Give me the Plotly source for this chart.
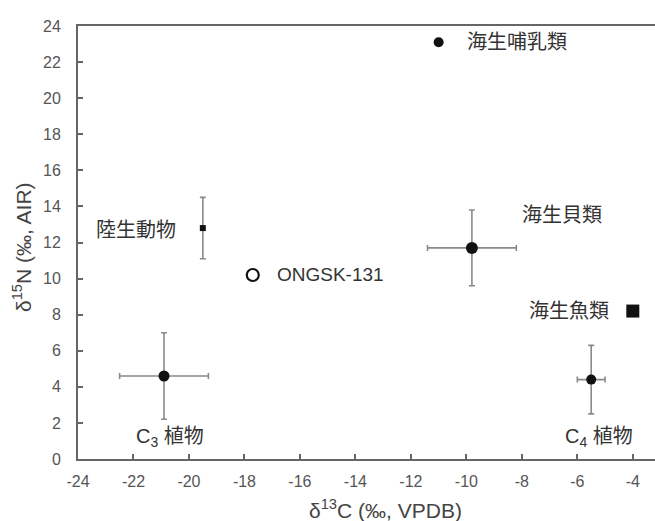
import plotly.graph_objects as go

# Data
groups = ["海生哺乳類", "海生貝類", "海生魚類", "C<sub>4</sub> 植物", "C<sub>3</sub> 植物", "陸生動物"]
d13c = [-11.0, -9.8, -4.0, -5.5, -20.9, -19.5]
d15n = [23.1, 11.7, 8.2, 4.4, 4.6, 12.8]
d13c_sd = [0, 1.6, 0, 0.5, 1.6, 0]
d15n_sd = [0, 2.1, 0, 1.9, 2.4, 1.7]
symbols = ["circle", "circle", "square", "circle", "circle", "square"]
sizes = [10, 12, 13, 10, 11, 6]

sample_name = ["ONGSK-131"]
sample_d13c = [-17.7]
sample_d15n = [10.2]

x_ticks = [-24, -22, -20, -18, -16, -14, -12, -10, -8, -6, -4]
x_ticktext = ["-24", "-22", "-20", "-18", "-16", "-14", "-12", "-10", "-8", "-6", "-4"]
y_ticks = [0, 2, 4, 6, 8, 10, 12, 14, 16, 18, 20, 22, 24]

# label placement (text offsets in data units)
label_dx = [0.95, 3.25, -0.8, 0.28, 0.22, -0.9]
label_dy = [0.0, 1.8, 0.0, -3.2, -3.4, -0.1]
label_anchor = ["left", "center", "right", "center", "center", "right"]

FONT = "Liberation Sans, Arial, Noto Sans CJK JP, sans-serif"
INK = "#111111"
GREY = "#8a8a8a"

fig = go.Figure()

# horizontal error bars (only where a spread exists)
ix = [i for i, v in enumerate(d13c_sd) if v]
fig.add_trace(go.Scatter(
    x=[d13c[i] for i in ix], y=[d15n[i] for i in ix], mode="markers",
    marker=dict(size=1, color="rgba(0,0,0,0)"),
    error_x=dict(type="data", array=[d13c_sd[i] for i in ix], color=GREY, thickness=1.6, width=3),
    showlegend=False, hoverinfo="skip",
))
# vertical error bars
iy = [i for i, v in enumerate(d15n_sd) if v]
fig.add_trace(go.Scatter(
    x=[d13c[i] for i in iy], y=[d15n[i] for i in iy], mode="markers",
    marker=dict(size=1, color="rgba(0,0,0,0)"),
    error_y=dict(type="data", array=[d15n_sd[i] for i in iy], color=GREY, thickness=1.6, width=3),
    showlegend=False, hoverinfo="skip",
))
fig.add_trace(go.Scatter(
    x=d13c, y=d15n, mode="markers",
    marker=dict(symbol=symbols, size=sizes, color=INK, opacity=1, line=dict(width=0)),
    showlegend=False,
))
fig.add_trace(go.Scatter(
    x=sample_d13c, y=sample_d15n, mode="markers",
    marker=dict(symbol="circle-open", size=12, color=INK, opacity=1, line=dict(width=2.2, color=INK)),
    showlegend=False,
))

for g, x, y, dx, dy, a in zip(groups, d13c, d15n, label_dx, label_dy, label_anchor):
    fig.add_annotation(x=x + dx, y=y + dy, text=g, showarrow=False, xanchor=a,
                       yanchor="middle", font=dict(size=20, color="#333333", family=FONT))
fig.add_annotation(x=sample_d13c[0] + 0.8, y=sample_d15n[0], text=sample_name[0],
                   showarrow=False, xanchor="left", yanchor="middle",
                   font=dict(size=19, color="#333333", family=FONT))

# axis titles
fig.add_annotation(xref="paper", yref="paper", x=(385 - 78) / 577, y=-(509 - 459) / 433,
                   text="δ<sup>13</sup>C (‰, VPDB)", showarrow=False,
                   xanchor="center", yanchor="middle",
                   font=dict(size=21, color="#444444", family=FONT))
fig.add_annotation(xref="paper", yref="paper", x=-(78 - 22) / 577, y=(459 - 247) / 433,
                   text="δ<sup>15</sup>N (‰, AIR)", showarrow=False, textangle=-90,
                   xanchor="center", yanchor="middle",
                   font=dict(size=21, color="#444444", family=FONT))

fig.update_layout(
    width=655, height=521,
    margin=dict(l=78, r=0, t=26, b=62),
    paper_bgcolor="white", plot_bgcolor="white",
    font=dict(family=FONT, color="#444444", size=16),
    xaxis=dict(range=[-24, -3.2], tickvals=x_ticks, ticktext=x_ticktext,
               ticks="inside", ticklen=5, automargin=False, ticklabelstandoff=7,
               tickcolor="#666666", tickwidth=1.5, tickfont=dict(size=16, color="#555555"),
               showline=True, linecolor="#666666", linewidth=2, mirror=True,
               showgrid=False, zeroline=False),
    yaxis=dict(range=[0, 24], tickvals=y_ticks, ticks="inside", ticklen=5,
               automargin=False, ticklabelstandoff=12,
               tickcolor="#666666", tickwidth=1.5, tickfont=dict(size=16, color="#555555"),
               showline=True, linecolor="#666666", linewidth=2,
               showgrid=False, zeroline=False),
)

fig.write_html("out.html", config={"displayModeBar": False},
               post_script="document.body.style.margin='0';")
